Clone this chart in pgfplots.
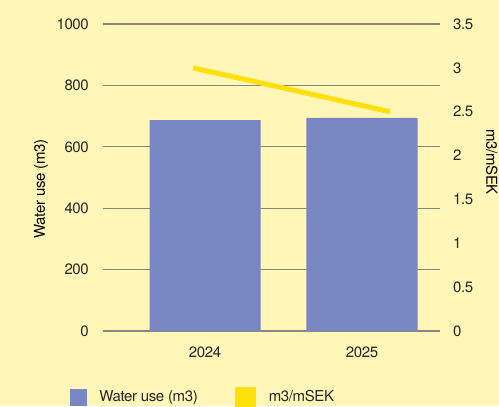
\documentclass[border=0pt]{standalone}
\usepackage{fontspec}
\setmainfont[LetterSpace=-2.5]{TeX Gyre Heros}
\usepackage{pgfplots}
\pgfplotsset{compat=1.18}

\definecolor{bgyellow}{RGB}{255,246,184}
\definecolor{barblue}{RGB}{120,135,194}
\definecolor{lineyellow}{RGB}{255,224,10}
\definecolor{gridgray}{RGB}{135,135,125}

\begin{document}
\fontsize{15bp}{18bp}\selectfont
\begin{tikzpicture}[x=1bp,y=1bp]
\useasboundingbox (0,0) rectangle (499,406);
\fill[bgyellow] (0,0) rectangle (499,406);

\pgfplotsset{
  common/.style={
    at={(103bp,75bp)}, anchor=south west,
    scale only axis, width=337bp, height=307bp,
    xmin=-0.65, xmax=1.497,
    axis line style={draw=none},
    major tick length=0pt,
    /pgf/number format/assume math mode=true,
    /pgf/number format/1000 sep={},
    tick label style={font=\fontsize{15bp}{18bp}\selectfont, inner sep=0pt, text=black!85},
    label style={font=\fontsize{15bp}{18bp}\selectfont, inner sep=0pt, text=black!85},
  }
}

% Left axis: water use in m3
\begin{axis}[common,
  ymin=0, ymax=1000,
  ytick={0,200,400,600,800,1000},
  ymajorgrids, grid style={gridgray, line width=1.1bp},
  xtick={0,1}, xticklabels={2024,2025},
  xticklabel style={anchor=north, yshift=-16bp},
  yticklabel style={anchor=east, xshift=-14bp},
  every axis y label/.style={at={(axis description cs:-0.184,0.4625)}, rotate=90, anchor=center},
  ylabel={Water use (m3)},
]
\addplot[ybar, bar width=111bp, fill=barblue, draw=none]
  coordinates {(0,687) (1,694)};
\end{axis}

% Right axis: m3 per mSEK
\begin{axis}[common,
  axis y line*=right,
  ymin=0, ymax=3.5,
  ytick={0,0.5,1,1.5,2,2.5,3,3.5},
  xtick=\empty,
  yticklabel style={anchor=west, xshift=13bp},
  every axis y label/.style={at={(axis description cs:1.154,0.5505)}, rotate=-90, anchor=center},
  ylabel={m3/mSEK},
  legend columns=2,
  legend style={at={(axis description cs:-0.0979,-0.215)}, anchor=west,
    draw=none, fill=none, inner sep=0pt, outer sep=0pt,
    font=\fontsize{15bp}{18bp}\selectfont, text=black!85,
    nodes={inner sep=0pt},
    /tikz/every odd column/.append style={column sep=13bp},
    /tikz/every even column/.append style={column sep=37bp}},
]
\addlegendimage{legend image code/.code={\fill[barblue] (0bp,-8bp) rectangle (16bp,8bp);}}
\addlegendentry{Water use (m3)}
\addplot[lineyellow, line width=5bp,
  legend image code/.code={\fill[lineyellow] (0bp,-8bp) rectangle (16bp,8bp);}]
  coordinates {(-0.076,3.0) (1.178,2.5)};
\addlegendentry{m3/mSEK}
\end{axis}
\end{tikzpicture}
\end{document}
